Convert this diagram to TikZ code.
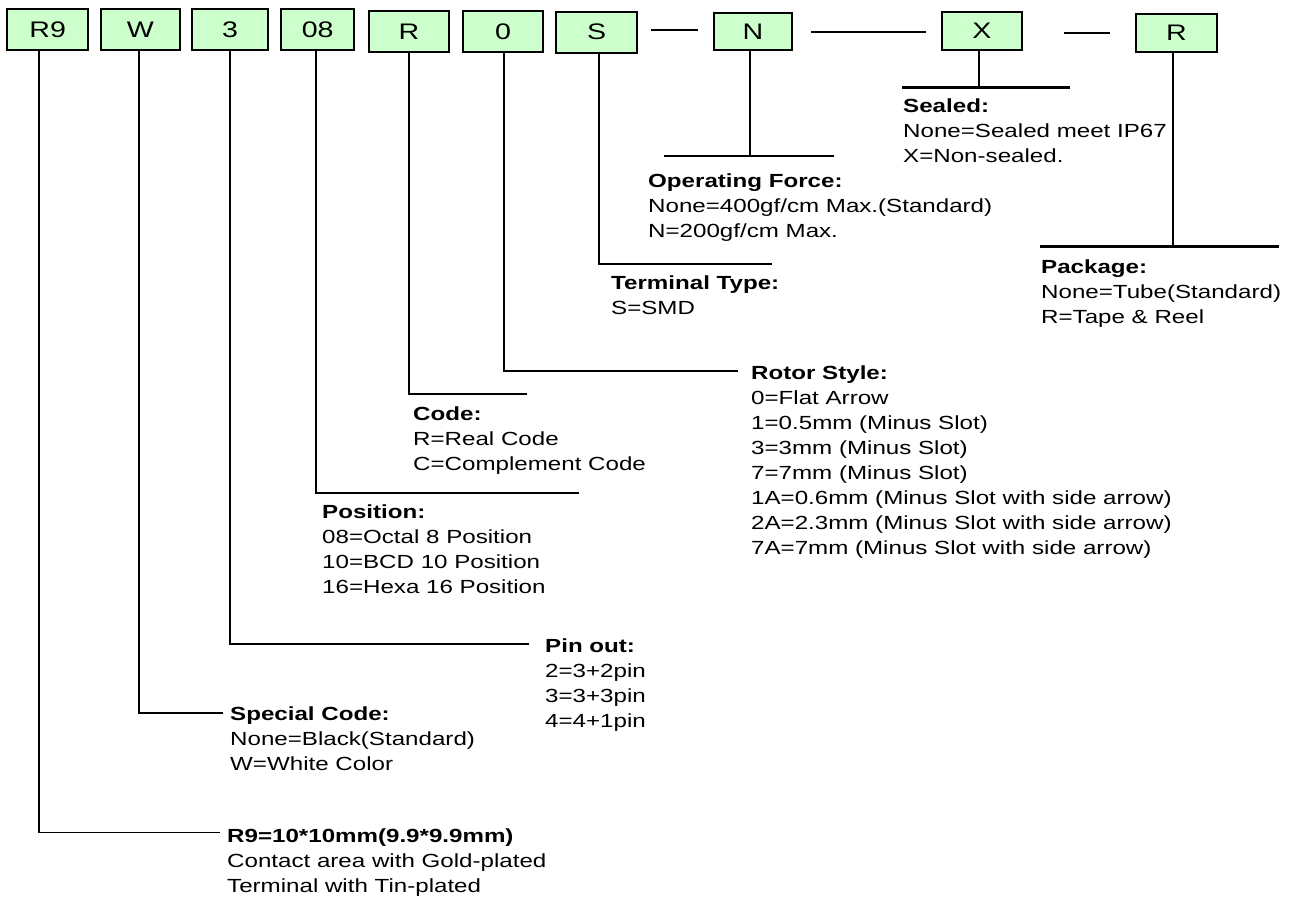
\documentclass[tikz,border=0pt]{standalone}
\usepackage{fontspec}
\setmainfont{Liberation Sans}[FakeStretch=1.27]
\usetikzlibrary{calc}
\definecolor{boxgreen}{HTML}{CCFFCC}
\begin{document}
\begin{tikzpicture}[x=1pt,y=-1pt,
  box/.style={draw=black, line width=2pt, fill=boxgreen, inner sep=0pt,
    font=\fontsize{22.5}{26}\selectfont, minimum height=41pt},
  lbl/.style={anchor=north west, inner sep=0pt, align=left,
    font=\fontsize{19}{25}\selectfont},
  wire/.style={line width=1.7pt},
  bar/.style={line width=2.4pt}]
\useasboundingbox (0,0) rectangle (1298,905);

% code boxes
\node[box, minimum width=80.7pt] (bR9) at (47.65,29.85) {R9};
\node[box, minimum width=79.3pt] (bW)  at (140.35,29.85) {W};
\node[box, minimum width=76.6pt] (b3)  at (230,29.85) {3};
\node[box, minimum width=73.3pt] (b08) at (317.65,29.85) {08};
\node[box, minimum width=80.3pt] (bR)  at (408.85,31.65) {R};
\node[box, minimum width=80pt]   (b0)  at (503,31.65) {0};
\node[box, minimum width=80.7pt] (bS)  at (596.65,32) {S};
\node[box, minimum width=78.6pt, minimum height=37.3pt] (bN) at (753,31.35) {N};
\node[box, minimum width=80pt, minimum height=37.7pt]   (bX) at (982,31.15) {X};
\node[box, minimum width=80.4pt, minimum height=38.3pt] (bP) at (1176.5,33.15) {R};

% dashes between boxes
\coordinate (d1a) at (651.3,30);   \coordinate (d1b) at (698,30);
\coordinate (d2a) at (811.3,32.3); \coordinate (d2b) at (926,32.3);
\coordinate (d3a) at (1064.3,33.3);\coordinate (d3b) at (1110.3,33.3);
\draw[wire] (d1a) -- (d1b);
\draw[wire] (d2a) -- (d2b);
\draw[wire] (d3a) -- (d3b);

% labels
\node[lbl] (lX) at (903,94.3) {\strut\textbf{Sealed:}\\None=Sealed meet IP67\\X=Non-sealed.};
\node[lbl] (lN) at (648,169.3) {\strut\textbf{Operating Force:}\\None=400gf/cm Max.(Standard)\\N=200gf/cm Max.};
\node[lbl] (lP) at (1041,255.3) {\strut\textbf{Package:}\\None=Tube(Standard)\\R=Tape \& Reel};
\node[lbl] (lS) at (611,271.3) {\strut\textbf{Terminal Type:}\\S=SMD};
\node[lbl] (l0) at (751,361.3) {\strut\textbf{Rotor Style:}\\0=Flat Arrow\\1=0.5mm (Minus Slot)\\3=3mm (Minus Slot)\\7=7mm (Minus Slot)\\1A=0.6mm (Minus Slot with side arrow)\\2A=2.3mm (Minus Slot with side arrow)\\7A=7mm (Minus Slot with side arrow)};
\node[lbl] (lR) at (413,402.3) {\strut\textbf{Code:}\\R=Real Code\\C=Complement Code};
\node[lbl] (l08) at (322,500.3) {\strut\textbf{Position:}\\08=Octal 8 Position\\10=BCD 10 Position\\16=Hexa 16 Position};
\node[lbl] (l3) at (545,634.3) {\strut\textbf{Pin out:}\\2=3+2pin\\3=3+3pin\\4=4+1pin};
\node[lbl] (lW) at (230,702.3) {\strut\textbf{Special Code:}\\None=Black(Standard)\\W=White Color};
\node[lbl] (lR9) at (227,824.3) {\strut\textbf{R9=10*10mm(9.9*9.9mm)}\\Contact area with Gold-plated\\Terminal with Tin-plated};

% corner / end coordinates
\coordinate (cR9) at (39.3,832.5);  \coordinate (eR9) at (220,832.5);
\coordinate (cW)  at (139.3,713);   \coordinate (eW)  at (223,713);
\coordinate (c3)  at (230,644.3);   \coordinate (e3)  at (529,644.3);
\coordinate (c08) at (316,492.7);   \coordinate (e08) at (578.6,492.7);
\coordinate (cR)  at (409.3,394);   \coordinate (eR)  at (527,394);
\coordinate (c0)  at (504,370.7);   \coordinate (e0)  at (738,370.7);
\coordinate (cS)  at (598.7,264);   \coordinate (eS)  at (772,264);
\coordinate (cN)  at (749.7,156);   \coordinate (nA) at (664,156); \coordinate (nB) at (834,156);
\coordinate (cX)  at (978.7,87.5);  \coordinate (xA) at (902,87.5); \coordinate (xB) at (1070,87.5);
\coordinate (cP)  at (1173.3,246.5);\coordinate (pA) at (1040,246.5); \coordinate (pB) at (1279,246.5);

% connectors
\draw[wire] (cR9 |- bR9.south) -- (cR9) -- (eR9);
\draw[wire] (cW |- bW.south) -- (cW) -- (eW);
\draw[wire] (c3 |- b3.south) -- (c3) -- (e3);
\draw[wire] (c08 |- b08.south) -- (c08) -- (e08);
\draw[wire] (cR |- bR.south) -- (cR) -- (eR);
\draw[wire] (c0 |- b0.south) -- (c0) -- (e0);
\draw[wire] (cS |- bS.south) -- (cS) -- (eS);
\draw[wire] (cN |- bN.south) -- (cN);
\draw[bar] (nA) -- (nB);
\draw[wire] (cX |- bX.south) -- (cX);
\draw[bar] (xA) -- (xB);
\draw[wire] (cP |- bP.south) -- (cP);
\draw[bar] (pA) -- (pB);
\end{tikzpicture}
\end{document}
